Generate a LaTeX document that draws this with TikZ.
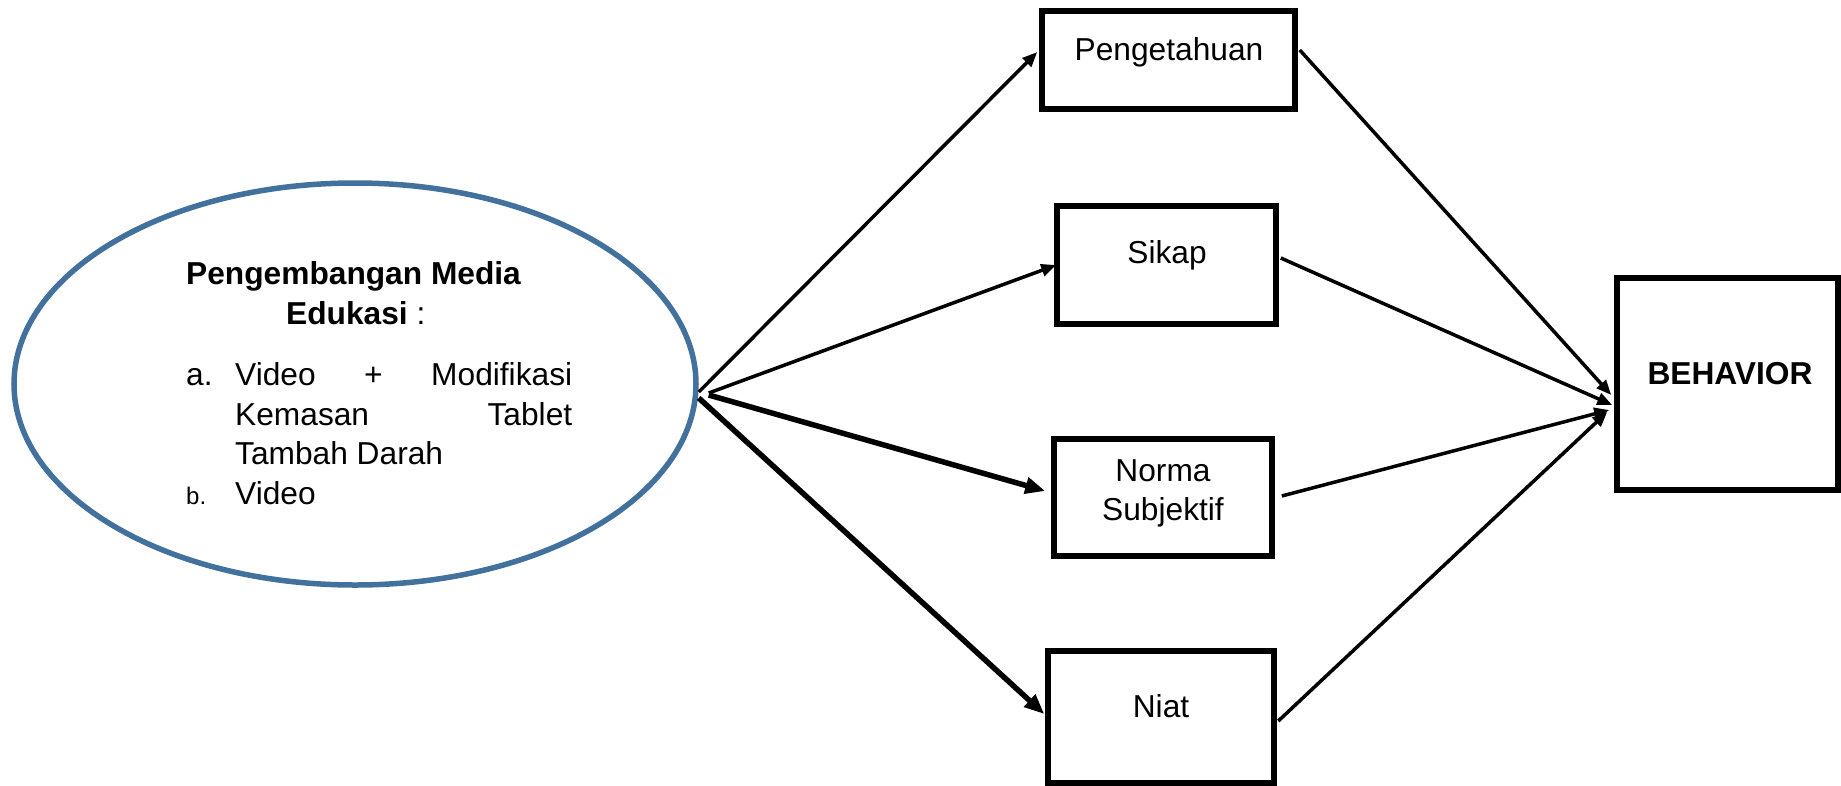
\documentclass[tikz,border=0pt]{standalone}
\usepackage{fontspec}
\setmainfont{Liberation Sans}
\usetikzlibrary{arrows.meta,shapes.geometric}
\definecolor{ellblue}{RGB}{65,113,156}
\tikzset{
  boxnode/.style={draw=black,line width=5.5pt,minimum width=#1,inner sep=0pt},
  txt/.style={inner sep=0pt,font=\fontsize{31.7pt}{38pt}\selectfont},
  thinarrow/.style={line width=3.5pt,-{Triangle[length=15pt,width=12pt]}},
  thickarrow/.style={line width=5.5pt,-{Triangle[length=20pt,width=16pt]}}
}
\begin{document}
\begin{tikzpicture}[x=1pt,y=-1pt]
\useasboundingbox (0,0) rectangle (1841,785);
% ellipse
\node[ellipse,draw=ellblue,line width=5.5pt,minimum width=682pt,minimum height=402pt,inner sep=0pt] (ell) at (355,384) {};
\node[txt,anchor=base west] (t1) at (186,284) {\bfseries Pengembangan Media};
\node[txt,anchor=base west] (t2) at (286,324) {\textbf{Edukasi} :};
\node[txt,anchor=base west] (la) at (186,385) {a.};
\node[txt,anchor=base west] (l1) at (235,385) {\makebox[337pt][s]{Video\hfill+\hfill Modifikasi}};
\node[txt,anchor=base west] (l2) at (235,425) {\makebox[337pt][s]{Kemasan\hfill Tablet}};
\node[txt,anchor=base west] (l3) at (235,464) {Tambah Darah};
\node[inner sep=0pt,anchor=base west,font=\fontsize{24pt}{28pt}\selectfont] (lb) at (186,504) {b.};
\node[txt,anchor=base west] (l4) at (235,504) {Video};
% boxes
\node[boxnode=253pt,minimum height=98pt] (peng) at (1168.5,60) {};
\node[boxnode=219pt,minimum height=118pt] (sikap) at (1166.5,265) {};
\node[boxnode=218pt,minimum height=117pt] (norma) at (1163,497.5) {};
\node[boxnode=226pt,minimum height=132pt] (niat) at (1161,717) {};
\node[boxnode=221pt,minimum height=212pt] (behav) at (1727.5,384) {};
% box texts
\node[txt,anchor=base] (tpeng) at (1169,60) {Pengetahuan};
\node[txt,anchor=base] (tsikap) at (1167,263) {Sikap};
\node[txt,anchor=base] (tnorma) at (1163,481) {Norma};
\node[txt,anchor=base] (tsubj) at (1163,520) {Subjektif};
\node[txt,anchor=base] (tniat) at (1161,717) {Niat};
\node[txt,anchor=base] (tbeh) at (1730,384) {\bfseries BEHAVIOR};
% connectors from ellipse
\draw[thinarrow] ([xshift=0pt,yshift=-8pt]ell.east) -- ([xshift=-2pt,yshift=8pt]peng.west);
\draw[thinarrow] ([xshift=10pt,yshift=-9pt]ell.east) -- ([xshift=2pt]sikap.west);
\draw[thickarrow] ([xshift=10pt,yshift=-11pt]ell.east) -- ([xshift=-6pt,yshift=6.5pt]norma.west);
\draw[thickarrow] ([xshift=0pt,yshift=-14pt]ell.east) -- ([xshift=-1pt,yshift=3pt]niat.west);
% connectors to behavior
\draw[thinarrow] ([xshift=2pt,yshift=10pt]peng.east) -- ([xshift=-3pt,yshift=-11pt]behav.west);
\draw[thinarrow] ([xshift=2pt,yshift=7pt]sikap.east) -- ([xshift=-2pt,yshift=-21pt]behav.west);
\draw[thinarrow] ([xshift=7pt,yshift=1.5pt]norma.east) -- ([xshift=-5pt,yshift=-26pt]behav.west);
\draw[thinarrow] ([xshift=1.5pt,yshift=-4pt]niat.east) -- ([xshift=-7pt,yshift=-28pt]behav.west);
\end{tikzpicture}
\end{document}
